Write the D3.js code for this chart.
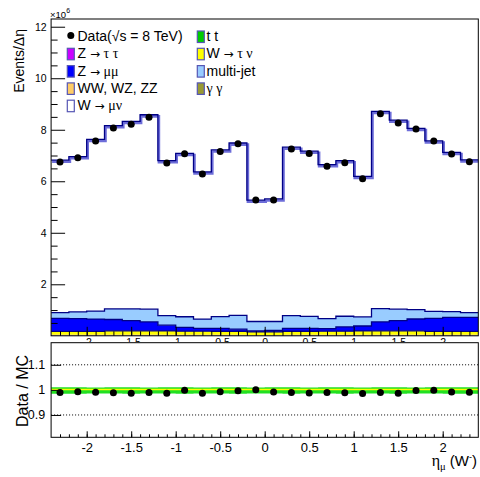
<!DOCTYPE html>
<html>
<head>
<meta charset="utf-8">
<script src="https://cdn.jsdelivr.net/npm/d3@7"></script>
<style>
  html, body { margin: 0; padding: 0; background: #fff; }
  svg { display: block; font-family: "Liberation Sans", Arial, Helvetica, sans-serif; }
</style>
</head>
<body>
<svg id="chart" width="480" height="477"></svg>
<script>
// ---- bins in muon pseudorapidity (W-) ----
const binEdges = [-2.4, -2.2, -2.0, -1.8, -1.6, -1.4, -1.2, -1.0, -0.8, -0.6, -0.4, -0.2, 0.0,
                  0.2, 0.4, 0.6, 0.8, 1.0, 1.2, 1.4, 1.6, 1.8, 2.0, 2.2, 2.4];

// ---- yields per unit eta, in units of 10^6 ----
const dataM      = [6.75, 6.91, 7.56, 8.07, 8.21, 8.49, 6.71, 7.07, 6.28, 7.16, 7.46, 5.27,
                    5.27, 7.25, 7.08, 6.58, 6.72, 6.10, 8.62, 8.26, 8.03, 7.56, 7.06, 6.76];
const wmunuM     = [5.92, 6.03, 6.67, 7.12, 7.28, 7.55, 6.02, 6.34, 5.72, 6.47, 6.69, 4.71,
                    4.76, 6.54, 6.41, 5.98, 6.04, 5.46, 7.66, 7.34, 7.04, 6.62, 6.18, 5.93];
const multijetM  = [0.22, 0.26, 0.31, 0.41, 0.45, 0.49, 0.37, 0.41, 0.36, 0.46, 0.54, 0.36,
                    0.35, 0.50, 0.47, 0.39, 0.41, 0.35, 0.51, 0.44, 0.36, 0.27, 0.22, 0.18];
const zmumuM     = [0.51, 0.50, 0.48, 0.44, 0.40, 0.35, 0.22, 0.15, 0.11, 0.11, 0.08, 0.04,
                    0.05, 0.11, 0.11, 0.10, 0.17, 0.19, 0.35, 0.40, 0.46, 0.51, 0.55, 0.55];
const wtaunuM    = [0.13, 0.13, 0.13, 0.15, 0.15, 0.15, 0.15, 0.14, 0.14, 0.14, 0.14, 0.12,
                    0.12, 0.14, 0.14, 0.14, 0.14, 0.15, 0.15, 0.15, 0.15, 0.13, 0.13, 0.13];
const ztautauM   = [0.016, 0.016, 0.016, 0.017, 0.017, 0.016, 0.015, 0.014, 0.013, 0.013, 0.012, 0.011,
                    0.011, 0.012, 0.013, 0.013, 0.014, 0.015, 0.016, 0.017, 0.017, 0.016, 0.016, 0.016];
const ttbarM     = [0.010, 0.011, 0.012, 0.013, 0.013, 0.013, 0.013, 0.013, 0.013, 0.012, 0.012, 0.012,
                    0.012, 0.012, 0.012, 0.013, 0.013, 0.013, 0.013, 0.013, 0.013, 0.012, 0.011, 0.010];
const dibosonM   = [0.008, 0.008, 0.008, 0.009, 0.009, 0.009, 0.009, 0.009, 0.008, 0.008, 0.008, 0.008,
                    0.008, 0.008, 0.008, 0.008, 0.009, 0.009, 0.009, 0.009, 0.009, 0.008, 0.008, 0.008];
const gammagammaM= [0.004, 0.004, 0.004, 0.004, 0.004, 0.004, 0.004, 0.004, 0.004, 0.004, 0.004, 0.004,
                    0.004, 0.004, 0.004, 0.004, 0.004, 0.004, 0.004, 0.004, 0.004, 0.004, 0.004, 0.004];

// ---- ratio panel uncertainty bands ----
const systLo = [0.985, 0.985, 0.986, 0.986, 0.985, 0.986, 0.986, 0.985, 0.986, 0.986, 0.985, 0.986,
                0.986, 0.985, 0.986, 0.986, 0.985, 0.986, 0.986, 0.985, 0.986, 0.986, 0.985, 0.985];
const systHi = [1.010, 1.010, 1.009, 1.010, 1.010, 1.009, 1.010, 1.010, 1.009, 1.010, 1.010, 1.009,
                1.010, 1.010, 1.009, 1.010, 1.010, 1.009, 1.010, 1.010, 1.009, 1.010, 1.010, 1.010];
const statLo = [0.999, 0.999, 0.999, 0.999, 0.999, 0.999, 0.999, 0.999, 0.999, 0.999, 0.999, 0.999,
                0.999, 0.999, 0.999, 0.999, 0.999, 0.999, 0.999, 0.999, 0.999, 0.999, 0.999, 0.999];
const statHi = [1.004, 1.004, 1.004, 1.004, 1.004, 1.004, 1.004, 1.004, 1.004, 1.004, 1.004, 1.004,
                1.004, 1.004, 1.004, 1.004, 1.004, 1.004, 1.004, 1.004, 1.004, 1.004, 1.004, 1.004];

// ---- axis ticks ----
const mainYTicks  = [2, 4, 6, 8, 10, 12];
const etaTicks    = [-2, -1.5, -1, -0.5, 0, 0.5, 1, 1.5, 2];
const ratioYTicks = [0.9, 1, 1.1];
const ratioGrid   = [0.9, 1.1];

// ---- layout ----
const svg = d3.select("#chart");
const frameL = 51.1, frameR = 478.3;
const mainTop = 19, mainBot = 335.8;
const ratTop = 342.7, ratBot = 437.3;

const x  = d3.scaleLinear().domain([-2.4, 2.4]).range([frameL, frameR]);
const y  = d3.scaleLinear().domain([0, 12.3]).range([mainBot, mainTop]);
const yr = d3.scaleLinear().domain([0.811, 1.188]).range([ratBot, ratTop]);

const navy = "#000085";
const sans = "Liberation Sans, Arial, sans-serif";
const serif = "Liberation Serif, DejaVu Serif, serif";
const plain = d => String(d);   // hyphen-minus, as on the axis labels

const keys = ["gammagamma", "diboson", "ttbar", "ztautau", "wtaunu", "zmumu", "multijet", "wmunu"];
const series = { gammagamma: gammagammaM, diboson: dibosonM, ttbar: ttbarM, ztautau: ztautauM,
                 wtaunu: wtaunuM, zmumu: zmumuM, multijet: multijetM, wmunu: wmunuM };
const fills = { gammagamma: "#999933", diboson: "#ffcc66", ttbar: "#00cc00", ztautau: "#cc00ff",
                wtaunu: "#ffff00", zmumu: "#0000ff", multijet: "#99ccff", wmunu: "#ffffff" };

const rows = dataM.map((d, i) => {
  const r = { i };
  keys.forEach(k => r[k] = series[k][i]);
  return r;
});
const stacked = d3.stack().keys(keys)(rows);
const mcTotal = rows.map(r => d3.sum(keys, k => r[k]));
const ratio = dataM.map((d, i) => d / mcTotal[i]);
const centers = binEdges.slice(0, -1).map((e, i) => (e + binEdges[i + 1]) / 2);
const minorEta = d3.range(-23, 24).map(v => v / 10);

// histogram points: one per low edge, plus a closing point at the last high edge
function stepPoints(lo, hi) {
  const pts = binEdges.slice(0, -1).map((e, i) => ({ x: e, lo: lo[i], hi: hi[i] }));
  const n = lo.length - 1;
  pts.push({ x: binEdges[binEdges.length - 1], lo: lo[n], hi: hi[n] });
  return pts;
}

svg.append("rect").attr("width", 480).attr("height", 477).attr("fill", "#fff");

// ================= main panel =================
const defs = svg.append("defs");
defs.append("clipPath").attr("id", "mainClip").append("rect")
  .attr("x", frameL).attr("y", mainTop).attr("width", frameR - frameL).attr("height", mainBot - mainTop);
defs.append("clipPath").attr("id", "ratClip").append("rect")
  .attr("x", frameL).attr("y", ratTop).attr("width", frameR - frameL).attr("height", ratBot - ratTop);

const main = svg.append("g").attr("clip-path", "url(#mainClip)");

const area = (sc) => d3.area().curve(d3.curveStepAfter)
  .x(d => x(d.x)).y0(d => sc(d.lo)).y1(d => sc(d.hi));
const line = (sc) => d3.line().curve(d3.curveStepAfter)
  .x(d => x(d.x)).y(d => sc(d.hi));

stacked.forEach(layer => {
  const lo = layer.map(d => d[0]);
  const hi = layer.map(d => d[1]);
  main.append("path").datum(stepPoints(lo, hi))
    .attr("fill", fills[layer.key]).attr("stroke", "none").attr("d", area(y));
});

// outlines of the visible components
stacked.filter(l => ["wtaunu", "zmumu", "multijet"].includes(l.key)).forEach(layer => {
  const hi = layer.map(d => d[1]);
  main.append("path").datum(stepPoints(hi, hi))
    .attr("fill", "none").attr("stroke", navy).attr("stroke-width", 1.3).attr("d", line(y));
});

// MC total: light band edge plus dark outline
const totPts = stepPoints(mcTotal, mcTotal);
main.append("path").datum(totPts)
  .attr("fill", "none").attr("stroke", "#6d6dd9").attr("stroke-width", 2.6)
  .attr("transform", "translate(1,1.6)").attr("d", line(y));
main.append("path").datum(totPts)
  .attr("fill", "none").attr("stroke", navy).attr("stroke-width", 1.3).attr("d", line(y));

// axes of main panel
const mainAxes = svg.append("g");
mainAxes.append("g").attr("transform", `translate(${frameL},0)`)
  .call(d3.axisLeft(y).tickValues(mainYTicks).tickSize(-14).tickPadding(4.5).tickFormat(plain))
  .call(g => g.select(".domain").remove())
  .call(g => g.selectAll("text").attr("font-size", 10.5).attr("fill", "#000").attr("font-family", sans));
mainAxes.append("g").attr("transform", `translate(${frameL},0)`)
  .call(d3.axisLeft(y).tickValues(d3.range(1, 25).filter(v => v % 4 !== 0).map(v => v / 2)).tickSize(-6.5).tickFormat(""))
  .call(g => g.select(".domain").remove());

mainAxes.append("g").attr("transform", `translate(0,${mainBot})`)
  .call(d3.axisBottom(x).tickValues(minorEta).tickSize(-4.5).tickFormat(""))
  .call(g => g.select(".domain").remove());
mainAxes.append("g").attr("transform", `translate(0,${mainBot})`)
  .call(d3.axisBottom(x).tickValues(etaTicks).tickSize(-9).tickPadding(2.5).tickFormat(plain))
  .call(g => g.select(".domain").remove())
  .call(g => g.selectAll("text").attr("font-size", 10.5).attr("fill", "#000").attr("font-family", sans));
mainAxes.selectAll("line").attr("stroke", "#000");

svg.append("rect").attr("x", frameL).attr("y", mainTop)
  .attr("width", frameR - frameL).attr("height", mainBot - mainTop)
  .attr("fill", "none").attr("stroke", "#000").attr("stroke-width", 1);

// data points
svg.append("g").selectAll("circle").data(dataM).join("circle")
  .attr("cx", (d, i) => x(centers[i])).attr("cy", d => y(d)).attr("r", 3.5).attr("fill", "#000");

// exponent label
const expo = svg.append("text").attr("x", 50).attr("y", 17.6).attr("font-size", 9.5).attr("fill", "#000");
expo.append("tspan").text("×10");
expo.append("tspan").attr("dy", -5).attr("font-size", 7).text("6");

// y title
svg.append("text").attr("transform", "translate(24,29) rotate(-90)")
  .attr("text-anchor", "end").attr("font-size", 14).attr("fill", "#000").text("Events/Δη");

// ---- legend ----
const arrowFont = "DejaVu Sans, sans-serif";
const legendLeft = [
  { key: "data", parts: [["Data(√s = 8 TeV)", null]] },
  { key: "ztautau", parts: [["Z ", null], ["→", arrowFont], [" τ τ", serif]] },
  { key: "zmumu", parts: [["Z ", null], ["→", arrowFont], [" μμ", serif]] },
  { key: "diboson", parts: [["WW, WZ, ZZ", null]] },
  { key: "wmunu", parts: [["W ", null], ["→", arrowFont], [" μν", serif]] }
];
const legendRight = [
  { key: "ttbar", parts: [["t t", null]] },
  { key: "wtaunu", parts: [["W ", null], ["→", arrowFont], [" τ ν", serif]] },
  { key: "multijet", parts: [["multi-jet", null]] },
  { key: "gammagamma", parts: [["γ γ", serif]] }
];
const leg = svg.append("g");
function drawLegendColumn(items, boxX, textX) {
  items.forEach((it, i) => {
    const base = 41 + i * 17.3;
    if (it.key === "data") {
      leg.append("circle").attr("cx", boxX + 3.5).attr("cy", base - 5.5).attr("r", 3.5).attr("fill", "#000");
    } else {
      leg.append("rect").attr("x", boxX).attr("y", base - 10).attr("width", 7).attr("height", 11.5)
        .attr("fill", fills[it.key]).attr("stroke", "#5656b4").attr("stroke-width", 1.2);
    }
    const t = leg.append("text").attr("x", textX).attr("y", base).attr("font-size", 14).attr("fill", "#000");
    it.parts.forEach(([s, fam]) => {
      const sp = t.append("tspan").text(s);
      if (fam) sp.attr("font-family", fam);
      if (fam === arrowFont) sp.attr("font-size", 12);
    });
  });
}
drawLegendColumn(legendLeft, 67.3, 77.5);
drawLegendColumn(legendRight, 197.3, 206.5);

// ================= ratio panel =================
svg.append("rect").attr("x", 0).attr("y", 342).attr("width", 480).attr("height", 135).attr("fill", "#fff");

const rat = svg.append("g").attr("clip-path", "url(#ratClip)");
rat.append("path").datum(stepPoints(systLo, systHi))
  .attr("fill", "#22e022").attr("d", area(yr));
rat.append("path").datum(stepPoints(statLo, statHi))
  .attr("fill", "#ffff00").attr("d", area(yr));

rat.selectAll("line.grid").data(ratioGrid).join("line").attr("class", "grid")
  .attr("x1", frameL).attr("x2", frameR).attr("y1", d => yr(d)).attr("y2", d => yr(d))
  .attr("stroke", "#000").attr("stroke-width", 1).attr("stroke-dasharray", "1,2");

const ratAxes = svg.append("g");
ratAxes.append("g").attr("transform", `translate(${frameL},0)`)
  .call(d3.axisLeft(yr).tickValues(ratioYTicks).tickSize(-10).tickPadding(6).tickFormat(plain))
  .call(g => g.select(".domain").remove())
  .call(g => g.selectAll("text").attr("font-size", 12.5).attr("fill", "#000").attr("font-family", sans));
ratAxes.append("g").attr("transform", `translate(0,${ratBot})`)
  .call(d3.axisBottom(x).tickValues(minorEta).tickSize(-3).tickFormat(""))
  .call(g => g.select(".domain").remove());
ratAxes.append("g").attr("transform", `translate(0,${ratBot})`)
  .call(d3.axisBottom(x).tickValues(etaTicks).tickSize(-6).tickPadding(5).tickFormat(plain))
  .call(g => g.select(".domain").remove())
  .call(g => g.selectAll("text").attr("font-size", 13).attr("fill", "#000").attr("font-family", sans));
ratAxes.selectAll("line").attr("stroke", "#000");

svg.append("rect").attr("x", frameL).attr("y", ratTop)
  .attr("width", frameR - frameL).attr("height", ratBot - ratTop)
  .attr("fill", "none").attr("stroke", "#000").attr("stroke-width", 1);

svg.append("g").selectAll("circle").data(ratio).join("circle")
  .attr("cx", (d, i) => x(centers[i])).attr("cy", d => yr(d)).attr("r", 3.5).attr("fill", "#000");

svg.append("text").attr("transform", "translate(28,391) rotate(-90)")
  .attr("text-anchor", "middle").attr("font-size", 16).attr("fill", "#000").text("Data / MC");

// x title
const xt = svg.append("text").attr("x", 477).attr("y", 466).attr("text-anchor", "end")
  .attr("font-size", 15).attr("fill", "#000");
xt.append("tspan").attr("font-family", serif).attr("font-size", 16).text("η");
xt.append("tspan").attr("font-family", serif).attr("font-size", 10.5).attr("dy", 4).text("μ");
xt.append("tspan").attr("dy", -4).text(" (W");
xt.append("tspan").attr("font-size", 9).attr("dy", -6).text("-");
xt.append("tspan").attr("dy", 6).text(")");
</script>
</body>
</html>
